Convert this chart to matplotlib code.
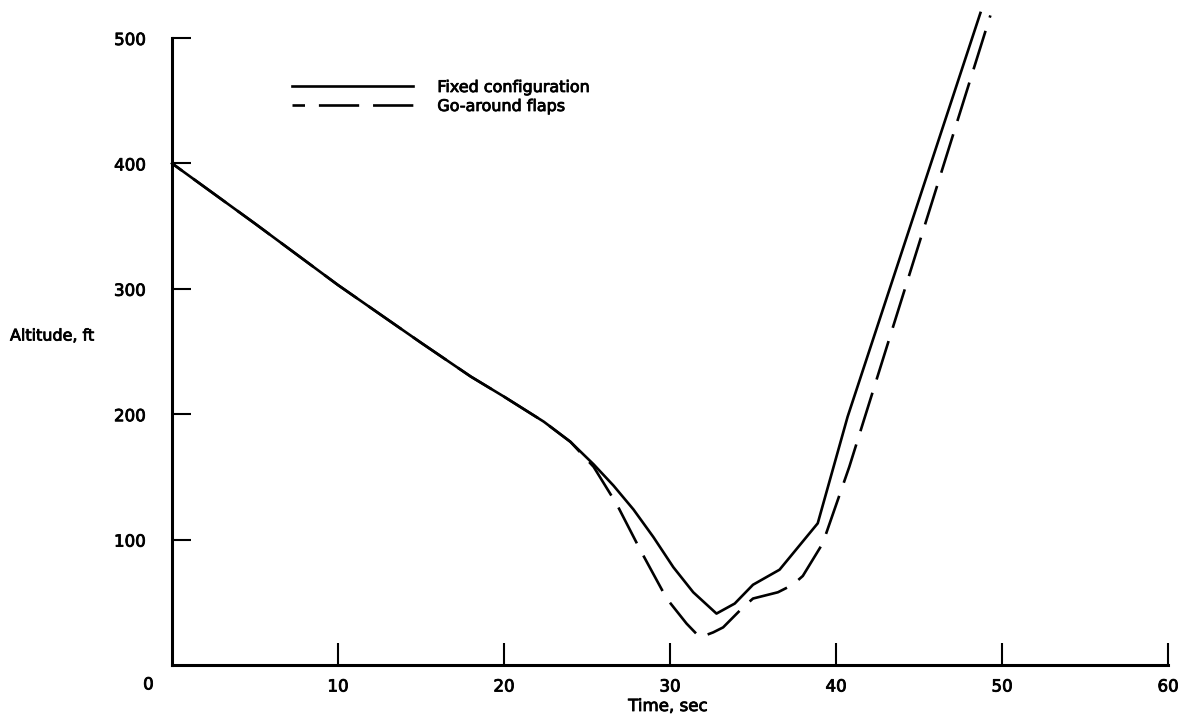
import matplotlib
matplotlib.use("Agg")
import matplotlib.pyplot as plt
import matplotlib.patheffects as pe

# Data
time_fixed = [0, 5, 10, 15, 18, 20, 22.4, 24.0, 25.4, 26.6, 27.8, 29.0, 30.2, 31.4, 32.8, 33.9, 35.0, 36.6, 38.9, 40.7, 48.7]
alt_fixed = [400, 352, 303, 257, 230, 214, 194, 178, 160, 143, 124, 102, 78, 58, 41, 49, 64, 76, 113, 198, 520]

time_flaps = [0, 5, 10, 15, 18, 20, 22.4, 24.0, 25.4, 26.8, 28.2, 29.8, 31.0, 31.8, 32.6, 33.2, 34.4, 35.0, 36.5, 37.4, 38.0, 39.2, 40.8, 49.3]
alt_flaps = [400, 352, 303, 257, 230, 214, 194, 178, 158, 128, 92, 53, 33, 22, 26, 30, 46, 53, 58, 64, 71, 97, 158, 518]

x_ticks = [10, 20, 30, 40, 50, 60]
y_ticks = [100, 200, 300, 400, 500]
series_labels = ["Fixed configuration", "Go-around flaps"]

plt.rcParams['font.family'] = ['DejaVu Sans']
plt.rcParams['lines.scale_dashes'] = False

heavy = [pe.withStroke(linewidth=0.6, foreground='black')]

W, H = 1188, 719
fig = plt.figure(figsize=(W / 100, H / 100), dpi=100)
ax = fig.add_axes([172 / W, 1 - 665 / H, (1168 - 172) / W, (665 - 38) / H])

ax.plot(time_fixed, alt_fixed, color='black', lw=1.9, clip_on=False,
        label=series_labels[0], solid_joinstyle='round')
ax.plot(time_flaps, alt_flaps, color='black', lw=1.9, clip_on=False,
        linestyle=(20, (29, 10)), label=series_labels[1])

ax.set_xlim(0, 60)
ax.set_ylim(0, 500)
for s in ['top', 'right']:
    ax.spines[s].set_visible(False)
for s in ['left', 'bottom']:
    ax.spines[s].set_linewidth(2.2)

ax.set_xticks(x_ticks)
ax.set_yticks(y_ticks)
ax.tick_params(axis='x', direction='in', length=16, width=1.5, pad=9, labelsize=12)
ax.tick_params(axis='y', direction='in', length=14, width=1.5, pad=19, labelsize=12)
for lab in ax.get_xticklabels() + ax.get_yticklabels():
    lab.set_path_effects(heavy)

ax.annotate('0', xy=(0, 0), xytext=(-17, -14), textcoords='offset points',
            ha='center', va='center', fontsize=12, path_effects=heavy)

ax.set_xlabel('Time, sec', fontsize=12, path_effects=heavy)
ax.xaxis.set_label_coords((668 - 172) / 996, (665 - 697) / 627)
ax.set_ylabel('Altitude, ft', fontsize=11.5, rotation=0, ha='left', va='center',
              path_effects=heavy)
ax.yaxis.set_label_coords((10 - 172) / 996, (665 - 336) / 627)

leg = ax.legend(loc='upper left', bbox_to_anchor=(292 / W, 1 - 80 / H),
                bbox_transform=fig.transFigure, frameon=False, fontsize=11.5,
                handlelength=7.6, handletextpad=1.5, labelspacing=0.25,
                borderpad=0, borderaxespad=0)
for t in leg.get_texts():
    t.set_path_effects(heavy)

fig.savefig('out.png', dpi=100)
